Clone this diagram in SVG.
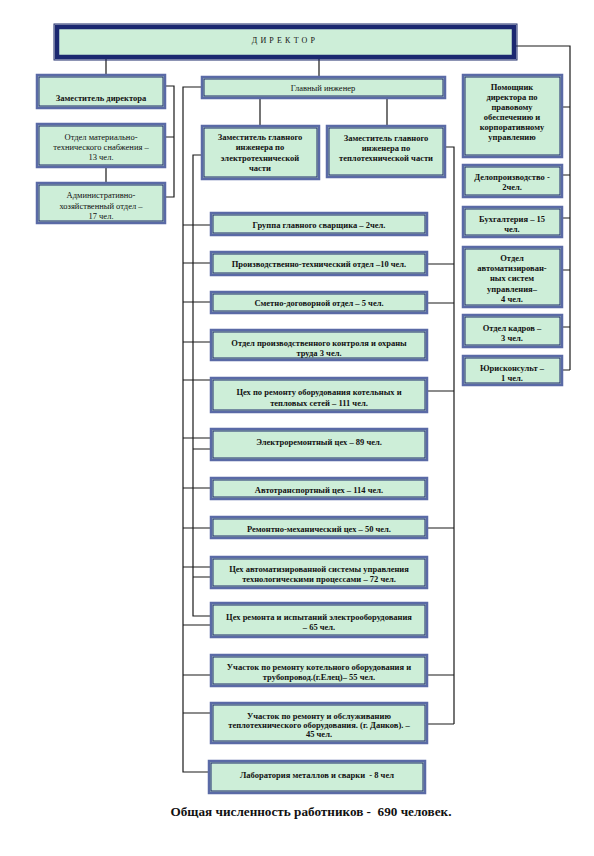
<svg xmlns="http://www.w3.org/2000/svg" width="594" height="856" viewBox="0 0 594 856">
<style>
.o{fill:#cdeed8;stroke:#5a6aa6;stroke-width:2.5}
.i{fill:none;stroke:#1d2a6a;stroke-width:1}
.od{fill:#cdeed8;stroke:#1b2870;stroke-width:4.5}
.t{font-family:"Liberation Serif","Times New Roman",serif;font-size:8.5px;font-weight:bold;fill:#111;text-anchor:middle}
.n{font-weight:normal}
.c{fill:none;stroke:#1a1a1a;stroke-width:1.2}
</style>
<rect width="594" height="856" fill="#fff"/>
<g id="connectors" class="c">
<path d="M106 57V75M319 57V77M514 46H570V370"/>
<path d="M562 107H570M562 175H570M562 218H570M562 270H570M562 327H570M562 370H570"/>
<path d="M165 86H174V197H165M165 137H174M106 167V183"/>
<path d="M260 98V126M387 98V126"/>
<path d="M202 87H183V772H209"/>
<path d="M183 225H211M183 263H211M183 302H211M183 342H211M183 380H211M183 438H211M183 488H211M183 528H211M183 567H211M183 625H211M183 675H211M183 713H211"/>
<path d="M202 155H193V616H211M193 449H211M193 577H211"/>
<path d="M445 147H454V724M427 264H454M427 303H454M427 391H454M427 528H454M427 675H454M427 724H454"/>
</g>
<g id="dir"><rect class="od" x="57" y="27" width="457" height="30"/><rect class="i" x="54" y="24" width="463" height="36" stroke="#8a95c0"/><text class="t n" x="285" y="43" style="font-size:8px;letter-spacing:3.2px">ДИРЕКТОР</text></g>
<g id="zd"><rect class="o" x="37" y="75" width="128" height="33"/><rect class="i" x="39" y="77" width="124" height="29"/><text class="t" x="101" y="101">Заместитель директора</text></g>
<g id="omts"><rect class="o" x="37" y="124" width="128" height="43"/><rect class="i" x="39" y="126" width="124" height="39"/><text class="t n" x="101"><tspan x="101" y="140">Отдел материально-</tspan><tspan x="101" y="150">технического снабжения –</tspan><tspan x="101" y="160">13 чел.</tspan></text></g>
<g id="aho"><rect class="o" x="37" y="183" width="128" height="40"/><rect class="i" x="39" y="185" width="124" height="36"/><text class="t n" x="101"><tspan x="101" y="198">Административно-</tspan><tspan x="101" y="209">хозяйственный отдел –</tspan><tspan x="101" y="219">17 чел.</tspan></text></g>
<g id="gi"><rect class="o" x="202" y="77" width="243" height="21"/><rect class="i" x="204" y="79" width="239" height="17"/><text class="t n" x="323" y="91">Главный инженер</text></g>
<g id="ze"><rect class="o" x="202" y="126" width="117" height="53"/><rect class="i" x="204" y="128" width="113" height="49"/><text class="t"><tspan x="260" y="140">Заместитель главного</tspan><tspan x="260" y="150">инженера по</tspan><tspan x="260" y="161">электротехнической</tspan><tspan x="260" y="171">части</tspan></text></g>
<g id="zt"><rect class="o" x="327" y="126" width="118" height="51"/><rect class="i" x="329" y="128" width="114" height="47"/><text class="t"><tspan x="386" y="141">Заместитель главного</tspan><tspan x="386" y="151">инженера по</tspan><tspan x="386" y="161">теплотехнической части</tspan></text></g>
<g id="pom"><rect class="o" x="463" y="75" width="99" height="82"/><rect class="i" x="465" y="77" width="95" height="78"/><text class="t"><tspan x="512" y="90">Помощник</tspan><tspan x="512" y="100">директора по</tspan><tspan x="512" y="110">правовому</tspan><tspan x="512" y="120">обеспечению и</tspan><tspan x="512" y="130">корпоративному</tspan><tspan x="512" y="140">управлению</tspan></text></g>
<g id="dp"><rect class="o" x="463" y="165" width="99" height="32"/><rect class="i" x="465" y="167" width="95" height="28"/><text class="t"><tspan x="512" y="180">Делопроизводство -</tspan><tspan x="512" y="190">2чел.</tspan></text></g>
<g id="bu"><rect class="o" x="463" y="207" width="99" height="30"/><rect class="i" x="465" y="209" width="95" height="26"/><text class="t"><tspan x="512" y="222">Бухгалтерия – 15</tspan><tspan x="512" y="232">чел.</tspan></text></g>
<g id="oa"><rect class="o" x="463" y="247" width="99" height="60"/><rect class="i" x="465" y="249" width="95" height="56"/><text class="t"><tspan x="512" y="261">Отдел</tspan><tspan x="512" y="271">автоматизирован-</tspan><tspan x="512" y="281">ных систем</tspan><tspan x="512" y="292">управления–</tspan><tspan x="512" y="302">4 чел.</tspan></text></g>
<g id="ok"><rect class="o" x="463" y="315" width="99" height="32"/><rect class="i" x="465" y="317" width="95" height="28"/><text class="t"><tspan x="512" y="331">Отдел кадров –</tspan><tspan x="512" y="341">3 чел.</tspan></text></g>
<g id="yu"><rect class="o" x="463" y="356" width="99" height="29"/><rect class="i" x="465" y="358" width="95" height="25"/><text class="t"><tspan x="512" y="371">Юрисконсульт –</tspan><tspan x="512" y="381">1 чел.</tspan></text></g>
<g id="m1"><rect class="o" x="211" y="213" width="216" height="22"/><rect class="i" x="213" y="215" width="212" height="18"/><text class="t" x="319" y="228">Группа главного сварщика – 2чел.</text></g>
<g id="m2"><rect class="o" x="211" y="252" width="216" height="23"/><rect class="i" x="213" y="254" width="212" height="19"/><text class="t" x="319" y="267">Производственно-технический отдел –10 чел.</text></g>
<g id="m3"><rect class="o" x="211" y="292" width="216" height="21"/><rect class="i" x="213" y="294" width="212" height="17"/><text class="t" x="319" y="306">Сметно-договорной отдел – 5 чел.</text></g>
<g id="m4"><rect class="o" x="211" y="330" width="216" height="30"/><rect class="i" x="213" y="332" width="212" height="26"/><text class="t"><tspan x="319" y="346">Отдел производственного контроля и охраны</tspan><tspan x="319" y="356">труда 3 чел.</tspan></text></g>
<g id="m5"><rect class="o" x="211" y="378" width="216" height="34"/><rect class="i" x="213" y="380" width="212" height="30"/><text class="t"><tspan x="319" y="395">Цех по ремонту оборудования котельных и</tspan><tspan x="319" y="406">тепловых сетей – 111 чел.</tspan></text></g>
<g id="m6"><rect class="o" x="211" y="429" width="216" height="31"/><rect class="i" x="213" y="431" width="212" height="27"/><text class="t" x="319" y="445">Электроремонтный цех – 89 чел.</text></g>
<g id="m7"><rect class="o" x="211" y="478" width="216" height="21"/><rect class="i" x="213" y="480" width="212" height="17"/><text class="t" x="319" y="493">Автотранспортный цех – 114 чел.</text></g>
<g id="m8"><rect class="o" x="211" y="517" width="216" height="21"/><rect class="i" x="213" y="519" width="212" height="17"/><text class="t" x="319" y="532">Ремонтно-механический цех – 50 чел.</text></g>
<g id="m9"><rect class="o" x="211" y="557" width="216" height="31"/><rect class="i" x="213" y="559" width="212" height="27"/><text class="t"><tspan x="319" y="572">Цех автоматизированной системы управления</tspan><tspan x="319" y="582">технологическими процессами – 72 чел.</tspan></text></g>
<g id="m10"><rect class="o" x="211" y="603" width="216" height="34"/><rect class="i" x="213" y="605" width="212" height="30"/><text class="t"><tspan x="319" y="620">Цех ремонта и испытаний электрооборудования</tspan><tspan x="319" y="630">– 65 чел.</tspan></text></g>
<g id="m11"><rect class="o" x="211" y="655" width="216" height="31"/><rect class="i" x="213" y="657" width="212" height="27"/><text class="t"><tspan x="319" y="670">Участок по ремонту котельного оборудования и</tspan><tspan x="319" y="680">трубопровод.(г.Елец)– 55 чел.</tspan></text></g>
<g id="m12"><rect class="o" x="211" y="703" width="216" height="40"/><rect class="i" x="213" y="705" width="212" height="36"/><text class="t"><tspan x="319" y="719">Участок по ремонту и обслуживанию</tspan><tspan x="319" y="728">теплотехнического оборудования. (г. Данков). –</tspan><tspan x="319" y="737">45 чел.</tspan></text></g>
<g id="m13"><rect class="o" x="209" y="761" width="216" height="32"/><rect class="i" x="211" y="763" width="212" height="28"/><text class="t" x="317" y="778" style="white-space:pre">Лаборатория металлов и сварки  - 8 чел</text></g>
<text class="t" x="311" y="816" style="font-size:13.2px;white-space:pre">Общая численность работников -  690 человек.</text>
</svg>
